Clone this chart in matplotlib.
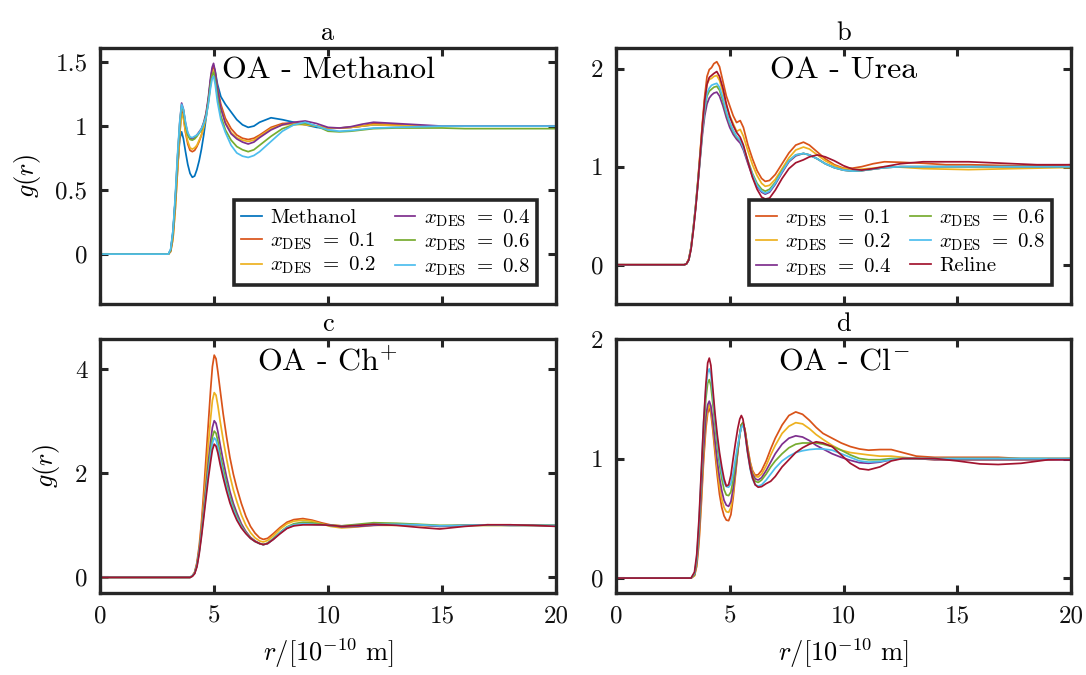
import matplotlib
matplotlib.use("Agg")
import matplotlib.pyplot as plt

plt.rcParams["font.family"] = "serif"
plt.rcParams["font.serif"] = ["cmr10"]
plt.rcParams["mathtext.fontset"] = "cm"
plt.rcParams["axes.formatter.use_mathtext"] = True
plt.rcParams["axes.unicode_minus"] = False

# ---------------- colours (one per composition) ----------------
C_METH = "#0072BD"
C_01 = "#D95319"
C_02 = "#EDB120"
C_04 = "#7E2F8E"
C_06 = "#77AC30"
C_08 = "#4DBEEE"
C_REL = "#A2142F"

# ---------------- a: OA - Methanol ----------------
r_a = [0, 3.0, 3.1, 3.2, 3.3, 3.4, 3.5, 3.58, 3.66, 3.75, 3.85, 3.95, 4.05, 4.15, 4.25,
       4.35, 4.45, 4.55, 4.65, 4.75, 4.85, 4.92, 4.98, 5.05, 5.15, 5.3, 5.5, 5.75, 6.0,
       6.25, 6.5, 6.75, 7.0, 7.5, 8.0, 8.5, 9.0, 9.5, 10.0, 10.5, 11.0, 11.5, 12.0, 13.0,
       14.0, 15.0, 16.0, 17.0, 18.0, 19.0, 20.0]
a_meth = [0, 0, 0.03, 0.18, 0.42, 0.68, 0.90, 0.955, 0.90, 0.80, 0.70, 0.63, 0.60, 0.61,
          0.66, 0.73, 0.82, 0.93, 1.06, 1.20, 1.36, 1.44, 1.47, 1.43, 1.33, 1.23, 1.17,
          1.11, 1.05, 1.01, 0.99, 1.0, 1.03, 1.065, 1.05, 1.03, 1.01, 0.99, 0.98, 0.985,
          0.99, 1.0, 1.01, 1.005, 1.0, 1.0, 1.0, 1.0, 1.0, 1.0, 1.0]
a_01 = [0, 0, 0.02, 0.12, 0.35, 0.65, 0.95, 1.12, 1.07, 0.95, 0.86, 0.81, 0.80, 0.81,
        0.84, 0.88, 0.93, 1.0, 1.09, 1.20, 1.35, 1.44, 1.47, 1.42, 1.30, 1.17, 1.06, 0.98,
        0.93, 0.905, 0.895, 0.905, 0.93, 0.99, 1.02, 1.025, 1.02, 1.0, 0.985, 0.985, 0.99,
        1.0, 1.02, 1.01, 1.0, 1.0, 1.0, 1.0, 1.0, 1.0, 1.0]
a_02 = [0, 0, 0.02, 0.12, 0.35, 0.65, 0.94, 1.10, 1.06, 0.96, 0.88, 0.83, 0.82, 0.83,
        0.85, 0.89, 0.93, 0.99, 1.07, 1.18, 1.32, 1.41, 1.44, 1.39, 1.27, 1.14, 1.03, 0.95,
        0.91, 0.89, 0.88, 0.89, 0.92, 0.98, 1.01, 1.015, 1.01, 1.0, 0.985, 0.985, 0.99,
        1.0, 1.01, 1.005, 1.0, 1.0, 1.0, 1.0, 1.0, 1.0, 1.0]
a_04 = [0, 0, 0.03, 0.16, 0.42, 0.75, 1.03, 1.18, 1.13, 1.02, 0.94, 0.905, 0.90, 0.91,
        0.93, 0.955, 0.98, 1.03, 1.10, 1.22, 1.38, 1.46, 1.49, 1.43, 1.29, 1.14, 1.02,
        0.94, 0.90, 0.875, 0.86, 0.875, 0.91, 0.97, 1.01, 1.03, 1.04, 1.02, 0.99, 0.985,
        0.995, 1.015, 1.03, 1.02, 1.01, 1.0, 1.0, 1.0, 1.0, 1.0, 1.0]
a_06 = [0, 0, 0.03, 0.16, 0.42, 0.75, 1.02, 1.16, 1.12, 1.01, 0.93, 0.895, 0.89, 0.90,
        0.92, 0.945, 0.97, 1.02, 1.08, 1.19, 1.33, 1.40, 1.42, 1.36, 1.23, 1.08, 0.97,
        0.89, 0.84, 0.815, 0.80, 0.815, 0.85, 0.92, 0.98, 1.01, 1.02, 1.0, 0.96, 0.955,
        0.96, 0.97, 0.98, 0.985, 0.985, 0.985, 0.98, 0.98, 0.98, 0.98, 0.98]
a_08 = [0, 0, 0.04, 0.18, 0.45, 0.78, 1.04, 1.17, 1.13, 1.03, 0.95, 0.915, 0.91, 0.92,
        0.93, 0.95, 0.98, 1.02, 1.07, 1.17, 1.30, 1.37, 1.39, 1.33, 1.19, 1.05, 0.95,
        0.85, 0.79, 0.765, 0.755, 0.77, 0.80, 0.88, 0.96, 1.01, 1.03, 1.0, 0.97, 0.96,
        0.965, 0.975, 0.985, 0.99, 0.995, 1.0, 1.0, 1.0, 1.0, 1.0, 1.0]

# ---------------- b: OA - Urea ----------------
r_b = [0, 3.0, 3.1, 3.2, 3.3, 3.4, 3.5, 3.6, 3.7, 3.8, 3.9, 4.0, 4.1, 4.2, 4.3, 4.43,
       4.55, 4.7, 4.85, 5.0, 5.15, 5.3, 5.46, 5.6, 5.8, 6.0, 6.2, 6.4, 6.56, 6.75, 7.0,
       7.3, 7.6, 7.9, 8.24, 8.5, 8.85, 9.2, 9.6, 10.0, 10.4, 10.8, 11.3, 11.8, 12.5, 13.5,
       14.5, 15.5, 16.5, 17.5, 18.5, 19.5, 20.0]
b_01 = [0, 0, 0.01, 0.06, 0.18, 0.38, 0.60, 0.86, 1.15, 1.45, 1.72, 1.92, 1.99, 2.01,
        2.05, 2.07, 2.02, 1.87, 1.72, 1.62, 1.52, 1.45, 1.47, 1.40, 1.22, 1.08, 0.96, 0.88,
        0.85, 0.86, 0.92, 1.03, 1.14, 1.22, 1.25, 1.22, 1.15, 1.08, 1.02, 0.985, 0.985,
        1.0, 1.03, 1.05, 1.045, 1.035, 1.02, 1.02, 1.015, 1.01, 1.01, 1.015, 1.02]
b_02 = [0, 0, 0.01, 0.06, 0.18, 0.38, 0.60, 0.86, 1.14, 1.43, 1.68, 1.84, 1.89, 1.90,
        1.92, 1.93, 1.88, 1.76, 1.62, 1.52, 1.44, 1.36, 1.38, 1.31, 1.16, 1.02, 0.91, 0.83,
        0.80, 0.81, 0.87, 0.98, 1.09, 1.17, 1.20, 1.18, 1.12, 1.06, 1.01, 0.98, 0.97,
        0.975, 0.985, 1.0, 0.995, 0.98, 0.975, 0.97, 0.975, 0.98, 0.985, 0.99, 0.99]
b_04 = [0, 0, 0.01, 0.05, 0.17, 0.36, 0.58, 0.82, 1.08, 1.33, 1.52, 1.64, 1.70, 1.73,
        1.75, 1.76, 1.72, 1.62, 1.50, 1.40, 1.33, 1.28, 1.24, 1.17, 1.03, 0.90, 0.80, 0.74,
        0.72, 0.74, 0.82, 0.94, 1.05, 1.11, 1.135, 1.12, 1.08, 1.03, 0.99, 0.965, 0.955,
        0.96, 0.975, 0.99, 1.0, 1.0, 1.0, 1.0, 1.0, 1.0, 1.0, 1.0, 1.0]
b_06 = [0, 0, 0.01, 0.05, 0.17, 0.37, 0.59, 0.84, 1.10, 1.37, 1.58, 1.72, 1.77, 1.79,
        1.81, 1.82, 1.78, 1.67, 1.54, 1.44, 1.36, 1.30, 1.27, 1.20, 1.06, 0.93, 0.83, 0.77,
        0.75, 0.77, 0.84, 0.96, 1.06, 1.12, 1.135, 1.12, 1.08, 1.03, 0.99, 0.965, 0.955,
        0.96, 0.975, 0.99, 1.0, 1.0, 1.0, 1.0, 1.0, 1.0, 1.0, 1.0, 1.0]
b_08 = [0, 0, 0.01, 0.05, 0.17, 0.37, 0.59, 0.84, 1.10, 1.38, 1.60, 1.75, 1.80, 1.83,
        1.84, 1.85, 1.81, 1.70, 1.56, 1.45, 1.37, 1.31, 1.27, 1.19, 1.05, 0.92, 0.81, 0.75,
        0.73, 0.75, 0.83, 0.95, 1.06, 1.12, 1.135, 1.12, 1.08, 1.03, 0.99, 0.965, 0.955,
        0.96, 0.975, 0.99, 1.0, 1.0, 1.0, 1.0, 1.0, 1.0, 1.0, 1.0, 1.0]
b_rel = [0, 0, 0.01, 0.05, 0.16, 0.35, 0.57, 0.83, 1.12, 1.42, 1.68, 1.84, 1.91, 1.93,
         1.95, 1.97, 1.92, 1.80, 1.64, 1.51, 1.42, 1.35, 1.30, 1.22, 1.05, 0.89, 0.77,
         0.69, 0.67, 0.68, 0.76, 0.88, 0.98, 1.04, 1.07, 1.10, 1.12, 1.10, 1.06, 1.01,
         0.975, 0.965, 0.98, 1.0, 1.03, 1.05, 1.05, 1.05, 1.04, 1.03, 1.02, 1.02, 1.02]

# ---------------- c: OA - Ch+ ----------------
r_c = [0, 3.8, 3.95, 4.05, 4.15, 4.25, 4.35, 4.45, 4.55, 4.65, 4.75, 4.85, 4.93, 5.01,
       5.09, 5.17, 5.27, 5.4, 5.55, 5.7, 5.85, 6.0, 6.2, 6.4, 6.6, 6.8, 7.0, 7.16, 7.35,
       7.6, 7.9, 8.2, 8.5, 8.9, 9.3, 9.7, 10.1, 10.6, 11.3, 12.0, 13.0, 14.0, 14.9, 16.0,
       17.0, 18.0, 19.0, 20.0]
c_01 = [0, 0, 0, 0.03, 0.10, 0.28, 0.60, 1.05, 1.65, 2.30, 2.95, 3.60, 4.05, 4.27, 4.20,
        3.95, 3.60, 3.15, 2.70, 2.30, 1.98, 1.72, 1.42, 1.17, 0.98, 0.85, 0.76, 0.73, 0.75,
        0.84, 0.96, 1.06, 1.11, 1.13, 1.10, 1.05, 1.01, 0.99, 1.0, 1.02, 1.02, 1.0, 0.98,
        1.0, 1.01, 1.01, 1.0, 1.0]
c_02 = [0, 0, 0, 0.03, 0.09, 0.26, 0.55, 0.95, 1.45, 2.00, 2.55, 3.05, 3.40, 3.55, 3.50,
        3.30, 3.00, 2.65, 2.28, 1.95, 1.68, 1.46, 1.20, 1.00, 0.86, 0.76, 0.70, 0.68, 0.71,
        0.80, 0.93, 1.03, 1.08, 1.10, 1.08, 1.03, 0.98, 0.95, 0.97, 1.0, 1.0, 1.0, 0.99,
        1.0, 1.0, 1.0, 1.0, 1.0]
c_04 = [0, 0, 0, 0.03, 0.08, 0.24, 0.52, 0.88, 1.30, 1.75, 2.20, 2.60, 2.88, 3.01, 2.96,
        2.80, 2.55, 2.25, 1.93, 1.65, 1.42, 1.24, 1.03, 0.88, 0.77, 0.70, 0.65, 0.63, 0.65,
        0.73, 0.85, 0.95, 1.0, 1.02, 1.02, 1.01, 1.0, 0.97, 0.98, 1.0, 1.02, 1.01, 0.98,
        1.0, 1.01, 1.0, 1.0, 0.99]
c_06 = [0, 0, 0, 0.03, 0.08, 0.23, 0.50, 0.85, 1.25, 1.67, 2.08, 2.45, 2.70, 2.81, 2.77,
        2.62, 2.38, 2.10, 1.81, 1.55, 1.35, 1.18, 0.99, 0.86, 0.76, 0.69, 0.65, 0.63, 0.66,
        0.75, 0.87, 0.97, 1.03, 1.06, 1.05, 1.02, 1.0, 0.99, 1.02, 1.05, 1.04, 1.02, 1.0,
        1.0, 1.0, 1.0, 1.0, 1.0]
c_08 = [0, 0, 0, 0.03, 0.08, 0.22, 0.48, 0.82, 1.20, 1.60, 2.00, 2.34, 2.58, 2.68, 2.64,
        2.50, 2.27, 2.00, 1.73, 1.49, 1.30, 1.14, 0.97, 0.85, 0.75, 0.69, 0.65, 0.63, 0.65,
        0.74, 0.86, 0.96, 1.01, 1.03, 1.02, 1.01, 1.0, 0.98, 1.0, 1.02, 1.02, 1.01, 0.99,
        1.0, 1.01, 1.0, 1.0, 1.0]
c_rel = [0, 0, 0, 0.02, 0.07, 0.20, 0.45, 0.78, 1.15, 1.53, 1.90, 2.22, 2.45, 2.56, 2.52,
         2.39, 2.17, 1.92, 1.66, 1.43, 1.25, 1.10, 0.95, 0.84, 0.75, 0.69, 0.65, 0.63,
         0.65, 0.73, 0.84, 0.94, 0.99, 1.01, 1.01, 1.01, 1.0, 0.98, 1.0, 1.02, 1.0, 0.96,
         0.93, 0.98, 1.01, 1.01, 1.0, 0.98]

# ---------------- d: OA - Cl- ----------------
r_d = [0, 3.3, 3.45, 3.55, 3.65, 3.75, 3.85, 3.95, 4.03, 4.1, 4.17, 4.25, 4.35, 4.45,
       4.55, 4.65, 4.75, 4.85, 4.95, 5.05, 5.15, 5.25, 5.35, 5.44, 5.51, 5.58, 5.67, 5.78,
       5.9, 6.0, 6.12, 6.25, 6.4, 6.6, 6.8, 7.0, 7.3, 7.6, 7.9, 8.2, 8.5, 8.8, 9.1, 9.5,
       9.9, 10.3, 10.7, 11.1, 11.6, 12.1, 12.6, 13.2, 14.0, 15.0, 16.0, 16.8, 17.8, 19.0,
       20.0]
d_01 = [0, 0, 0.02, 0.10, 0.30, 0.62, 0.98, 1.25, 1.38, 1.42, 1.38, 1.25, 1.05, 0.86,
        0.70, 0.59, 0.52, 0.485, 0.48, 0.53, 0.67, 0.86, 1.05, 1.20, 1.28, 1.30, 1.24,
        1.10, 0.97, 0.90, 0.86, 0.865, 0.90, 0.98, 1.08, 1.17, 1.28, 1.36, 1.39, 1.37,
        1.32, 1.26, 1.21, 1.17, 1.13, 1.10, 1.08, 1.07, 1.075, 1.075, 1.05, 1.02, 1.01,
        1.01, 1.01, 1.01, 1.0, 1.0, 1.0]
d_02 = [0, 0, 0.02, 0.11, 0.33, 0.66, 1.02, 1.29, 1.41, 1.45, 1.41, 1.29, 1.10, 0.92,
        0.77, 0.66, 0.59, 0.555, 0.55, 0.59, 0.71, 0.88, 1.06, 1.20, 1.28, 1.30, 1.24,
        1.10, 0.96, 0.89, 0.85, 0.845, 0.87, 0.94, 1.03, 1.11, 1.21, 1.27, 1.30, 1.29,
        1.25, 1.20, 1.16, 1.11, 1.07, 1.05, 1.04, 1.03, 1.02, 1.02, 1.01, 1.0, 0.99, 0.99,
        0.99, 0.99, 0.99, 0.99, 1.0]
d_04 = [0, 0, 0.03, 0.13, 0.37, 0.72, 1.08, 1.35, 1.45, 1.48, 1.44, 1.33, 1.15, 0.98,
        0.84, 0.73, 0.65, 0.61, 0.60, 0.64, 0.75, 0.90, 1.06, 1.20, 1.28, 1.30, 1.23,
        1.08, 0.94, 0.87, 0.83, 0.82, 0.84, 0.90, 0.97, 1.04, 1.12, 1.17, 1.19, 1.18,
        1.15, 1.11, 1.08, 1.04, 1.01, 0.985, 0.965, 0.96, 0.97, 0.99, 1.0, 1.0, 0.99,
        0.99, 0.99, 0.99, 0.99, 0.99, 0.99]
d_06 = [0, 0, 0.03, 0.15, 0.42, 0.82, 1.22, 1.50, 1.63, 1.66, 1.61, 1.47, 1.28, 1.10,
        0.95, 0.83, 0.74, 0.695, 0.69, 0.72, 0.82, 0.95, 1.08, 1.20, 1.28, 1.30, 1.23,
        1.07, 0.93, 0.85, 0.81, 0.80, 0.82, 0.87, 0.93, 0.98, 1.04, 1.09, 1.12, 1.13,
        1.13, 1.13, 1.12, 1.10, 1.07, 1.03, 1.0, 0.99, 0.99, 1.0, 1.0, 1.0, 1.0, 1.0,
        1.0, 1.0, 1.0, 1.0, 1.0]
d_08 = [0, 0, 0.04, 0.17, 0.46, 0.88, 1.30, 1.58, 1.72, 1.75, 1.70, 1.55, 1.34, 1.16,
        1.0, 0.88, 0.80, 0.765, 0.76, 0.79, 0.88, 1.0, 1.11, 1.20, 1.26, 1.28, 1.21, 1.05,
        0.91, 0.83, 0.78, 0.77, 0.78, 0.82, 0.87, 0.92, 0.98, 1.02, 1.05, 1.065, 1.075,
        1.08, 1.08, 1.07, 1.04, 1.01, 0.98, 0.97, 0.975, 0.99, 1.0, 1.0, 1.0, 1.0, 1.0,
        1.0, 1.0, 1.0, 1.0]
d_rel = [0, 0, 0.05, 0.20, 0.50, 0.90, 1.30, 1.62, 1.80, 1.84, 1.78, 1.60, 1.38, 1.20,
         1.05, 0.93, 0.83, 0.77, 0.78, 0.86, 1.0, 1.13, 1.25, 1.33, 1.36, 1.33, 1.22, 1.06,
         0.92, 0.84, 0.78, 0.76, 0.765, 0.79, 0.81, 0.85, 0.93, 0.99, 1.05, 1.09, 1.12,
         1.14, 1.13, 1.10, 1.03, 0.96, 0.915, 0.905, 0.93, 0.98, 1.0, 1.0, 1.0, 0.98,
         0.955, 0.95, 0.96, 0.99, 0.99]

x_ticks = [0, 5, 10, 15, 20]
des_labels = [r"$x_{\mathrm{DES}}\ =\ 0.1$", r"$x_{\mathrm{DES}}\ =\ 0.2$",
              r"$x_{\mathrm{DES}}\ =\ 0.4$", r"$x_{\mathrm{DES}}\ =\ 0.6$",
              r"$x_{\mathrm{DES}}\ =\ 0.8$"]
des_colors = [C_01, C_02, C_04, C_06, C_08]

panels = [
    dict(tag="a", title="OA - Methanol", r=r_a,
         series=[a_meth, a_01, a_02, a_04, a_06, a_08],
         labels=["Methanol"] + des_labels,
         colors=[C_METH] + des_colors,
         ylim=(-0.39, 1.61), yticks=[0, 0.5, 1, 1.5],
         yticklabels=["0", "0.5", "1", "1.5"], legend=True),
    dict(tag="b", title="OA - Urea", r=r_b,
         series=[b_01, b_02, b_04, b_06, b_08, b_rel],
         labels=des_labels + ["Reline"],
         colors=des_colors + [C_REL],
         ylim=(-0.4, 2.21), yticks=[0, 1, 2],
         yticklabels=["0", "1", "2"], legend=True),
    dict(tag="c", title="OA - Ch$^{+}$", r=r_c,
         series=[c_01, c_02, c_04, c_06, c_08, c_rel],
         labels=des_labels + ["Reline"],
         colors=des_colors + [C_REL],
         ylim=(-0.3, 4.58), yticks=[0, 2, 4],
         yticklabels=["0", "2", "4"], legend=False),
    dict(tag="d", title="OA - Cl$^{-}$", r=r_d,
         series=[d_01, d_02, d_04, d_06, d_08, d_rel],
         labels=des_labels + ["Reline"],
         colors=des_colors + [C_REL],
         ylim=(-0.125, 2.0), yticks=[0, 1, 2],
         yticklabels=["0", "1", "2"], legend=False),
]

for p in panels:
    for vals in p["series"]:
        assert len(vals) == len(p["r"]), (p["tag"], len(vals), len(p["r"]))

W, H = 1086, 675
fig = plt.figure(figsize=(W / 100, H / 100), dpi=100)
boxes = [(100, 48, 556, 304), (616, 48, 1071, 304),
         (100, 339, 556, 593), (616, 339, 1071, 593)]

edge = "#262626"
for i, (p, (x0, y0, x1, y1)) in enumerate(zip(panels, boxes)):
    ax = fig.add_axes([x0 / W, (H - y1) / H, (x1 - x0) / W, (y1 - y0) / H])
    for vals, lab, col in zip(p["series"], p["labels"], p["colors"]):
        ax.plot(p["r"], vals, color=col, lw=1.25, label=lab)
    ax.set_xlim(0, 20)
    ax.set_ylim(*p["ylim"])
    ax.set_xticks(x_ticks)
    ax.set_yticks(p["yticks"])
    ax.set_yticklabels(p["yticklabels"])
    if i >= 2:
        ax.set_xticklabels([str(t) for t in x_ticks])
        ax.set_xlabel(r"$r/[10^{-10}\ \mathrm{m}]$", fontsize=19, labelpad=6)
    else:
        ax.set_xticklabels([])
    if i % 2 == 0:
        ax.set_ylabel(r"$g(r)$", fontsize=19, labelpad=9)
    ax.tick_params(direction="in", top=True, right=True, length=6, width=2.2,
                   colors=edge, labelcolor="#111111", labelsize=18, pad=9)
    for s in ax.spines.values():
        s.set_linewidth(2.4)
        s.set_color(edge)
    ax.set_title(p["tag"], fontsize=19, pad=6)
    ax.text(0.5, 0.91, p["title"], transform=ax.transAxes, ha="center", va="center",
            fontsize=23)
    if p["legend"]:
        leg = ax.legend(loc="lower right", ncol=2, fontsize=15, handlelength=1.0,
                        handletextpad=0.4, columnspacing=0.9, labelspacing=0.15,
                        borderaxespad=0.9, fancybox=False, framealpha=1,
                        edgecolor=edge, borderpad=0.35)
        leg.get_frame().set_linewidth(2.6)

fig.savefig("out.png", dpi=100)
